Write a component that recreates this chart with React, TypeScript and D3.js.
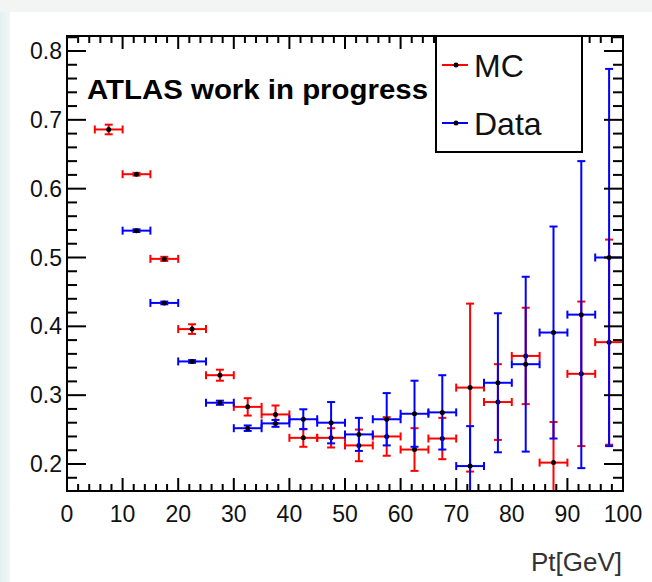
import React from "react";
import * as d3 from "d3";

const binCenters = [7.5, 12.5, 17.5, 22.5, 27.5, 32.5, 37.5, 42.5, 47.5, 52.5, 57.5, 62.5, 67.5, 72.5, 77.5, 82.5, 87.5, 92.5, 97.5];
const binHalfWidth = 2.5;

const mcValues = [0.686, 0.621, 0.498, 0.396, 0.329, 0.283, 0.272, 0.238, 0.238, 0.227, 0.240, 0.221, 0.237, 0.311, 0.290, 0.357, 0.202, 0.331, 0.377];
const mcErrors = [0.007, 0.002, 0.003, 0.007, 0.008, 0.0126, 0.013, 0.013, 0.014, 0.023, 0.028, 0.031, 0.030, 0.122, 0.055, 0.070, 0.059, 0.105, 0.149];

const dataCenters = binCenters.slice(1);
const dataValues = [0.539, 0.434, 0.349, 0.289, 0.252, 0.259, 0.265, 0.260, 0.243, 0.265, 0.273, 0.275, 0.197, 0.318, 0.345, 0.391, 0.417, 0.500];
const dataErrors = [0.002, 0.002, 0.002, 0.003, 0.004, 0.005, 0.0145, 0.030, 0.024, 0.038, 0.048, 0.054, 0.058, 0.101, 0.127, 0.154, 0.223, 0.274];

const xTickValues = [0, 10, 20, 30, 40, 50, 60, 70, 80, 90, 100];
const yTickValues = [0.2, 0.3, 0.4, 0.5, 0.6, 0.7, 0.8];

const FRAME = { left: 67, right: 623, top: 36, bottom: 491 };

export default function App() {
  const x = d3.scaleLinear().domain([0, 100]).range([FRAME.left, FRAME.right]);
  const y = d3.scaleLinear().domain([0.2, 0.8]).range([464, 51]);
  const yMin = y.invert(FRAME.bottom);
  const yMax = y.invert(FRAME.top);

  const xMinor = d3.range(0, 100.001, 2);
  const yMinor = d3.range(0.16, yMax, 0.02).filter((v) => v > yMin - 1e-9);

  const font = "'Liberation Sans', Arial, sans-serif";
  const cap = 4;

  const series = (
    centers: number[],
    values: number[],
    errors: number[],
    color: string,
    key: string
  ) =>
    centers.map((c, i) => {
      const cx = x(c);
      const cy = y(values[i]);
      const x0 = x(c - binHalfWidth);
      const x1 = x(c + binHalfWidth);
      const yt = y(values[i] + errors[i]);
      const yb = y(values[i] - errors[i]);
      return (
        <g key={key + i} stroke={color} strokeWidth={2} fill="none">
          <line x1={x0} x2={x1} y1={cy} y2={cy} />
          <line x1={x0} x2={x0} y1={cy - cap} y2={cy + cap} />
          <line x1={x1} x2={x1} y1={cy - cap} y2={cy + cap} />
          <line x1={cx} x2={cx} y1={yt} y2={yb} />
          <line x1={cx - cap} x2={cx + cap} y1={yt} y2={yt} />
          <line x1={cx - cap} x2={cx + cap} y1={yb} y2={yb} />
          <circle cx={cx} cy={cy} r={2.5} fill="#000" stroke="none" />
        </g>
      );
    });

  return (
    <svg
      width={652}
      height={582}
      style={{ position: "absolute", left: 0, top: 0 }}
      fontFamily={font}
    >
      <defs>
        <linearGradient id="leftGrad" x1="0" x2="1" y1="0" y2="0">
          <stop offset="0" stopColor="#e3f1f1" />
          <stop offset="1" stopColor="#f1f6f6" />
        </linearGradient>
        <clipPath id="frameClip">
          <rect x={FRAME.left} y={FRAME.top} width={FRAME.right - FRAME.left} height={FRAME.bottom - FRAME.top} />
        </clipPath>
      </defs>
      <rect x={0} y={0} width={652} height={582} fill="#f3f4f4" />
      <rect x={0} y={12} width={10} height={570} fill="url(#leftGrad)" />
      <rect x={10} y={12} width={642} height={570} fill="#ffffff" />

      {/* data */}
      <g clipPath="url(#frameClip)">
        {series(binCenters, mcValues, mcErrors, "#ff0000", "mc")}
        {series(dataCenters, dataValues, dataErrors, "#0000ff", "data")}
      </g>

      {/* axes ticks */}
      <g stroke="#000" strokeWidth={2}>
        {xMinor.map((v) => {
          const major = Math.abs(v % 10) < 1e-6;
          const len = major ? 13 : 7;
          return (
            <g key={"xt" + v}>
              <line x1={x(v)} x2={x(v)} y1={FRAME.bottom} y2={FRAME.bottom - len} />
              <line x1={x(v)} x2={x(v)} y1={FRAME.top} y2={FRAME.top + len} />
            </g>
          );
        })}
        {yMinor.map((v) => {
          const major = yTickValues.some((t) => Math.abs(t - v) < 1e-6);
          const len = major ? 19 : 10;
          return (
            <g key={"yt" + v.toFixed(2)}>
              <line x1={FRAME.left} x2={FRAME.left + len} y1={y(v)} y2={y(v)} />
              <line x1={FRAME.right} x2={FRAME.right - len} y1={y(v)} y2={y(v)} />
            </g>
          );
        })}
      </g>

      {/* frame */}
      <rect
        x={FRAME.left}
        y={FRAME.top}
        width={FRAME.right - FRAME.left}
        height={FRAME.bottom - FRAME.top}
        fill="none"
        stroke="#000"
        strokeWidth={2}
      />

      {/* tick labels */}
      <g fontSize={23} fill="#111">
        {xTickValues.map((v) => (
          <text key={"xl" + v} x={x(v)} y={522} textAnchor="middle">
            {v}
          </text>
        ))}
        {yTickValues.map((v) => (
          <text key={"yl" + v} x={62} y={y(v) + 8} textAnchor="end">
            {v.toFixed(1)}
          </text>
        ))}
      </g>

      <text x={622} y={571} textAnchor="end" fontSize={26} fill="#333">
        Pt[GeV]
      </text>

      <text x={87} y={99} fontSize={28} fontWeight="bold" fill="#000" textLength={341} lengthAdjust="spacingAndGlyphs">
        ATLAS work in progress
      </text>

      {/* legend */}
      <rect x={436} y={FRAME.top} width={146} height={116} fill="#fff" stroke="#000" strokeWidth={2} />
      <line x1={442} x2={468} y1={65} y2={65} stroke="#ff0000" strokeWidth={2} />
      <circle cx={456} cy={65} r={2.5} fill="#000" />
      <text x={474} y={77} fontSize={32} fill="#111">MC</text>
      <line x1={442} x2={468} y1={123} y2={123} stroke="#0000ff" strokeWidth={2} />
      <circle cx={456} cy={123} r={2.5} fill="#000" />
      <text x={474} y={135} fontSize={32} fill="#111">Data</text>
    </svg>
  );
}
